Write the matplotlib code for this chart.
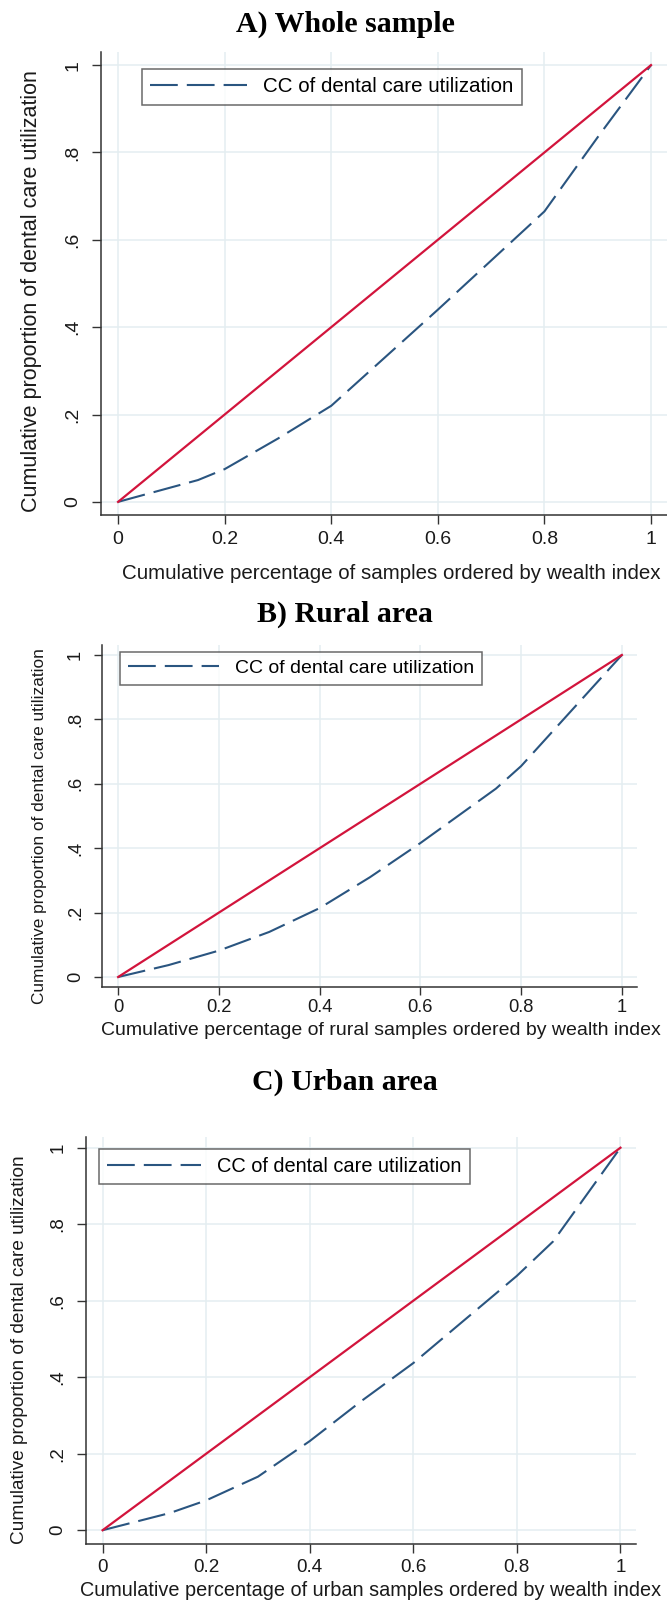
import matplotlib
matplotlib.use("Agg")
import matplotlib.pyplot as plt

W, H = 667, 1603

# concentration curves
share_a = [0, 0.15, 0.2, 0.3, 0.4, 0.6, 0.8, 0.9, 1]
cc_a = [0, 0.05, 0.075, 0.145, 0.22, 0.44, 0.665, 0.835, 1]

share_b = [0, 0.1, 0.2, 0.3, 0.4, 0.5, 0.6, 0.75, 0.8, 1]
cc_b = [0, 0.037, 0.082, 0.14, 0.214, 0.31, 0.416, 0.585, 0.655, 1]

share_c = [0, 0.13, 0.2, 0.3, 0.4, 0.5, 0.6, 0.8, 0.87, 1]
cc_c = [0, 0.045, 0.078, 0.14, 0.233, 0.338, 0.437, 0.665, 0.755, 1]

equality = [0, 1]

titles = ["A) Whole sample", "B) Rural area", "C) Urban area"]
xlabels = [
    "Cumulative percentage of samples ordered by wealth index",
    "Cumulative percentage of rural samples ordered by wealth index",
    "Cumulative percentage of urban samples ordered by wealth index",
]
ylabel = "Cumulative proportion of dental care utilization"
legend_label = "CC of dental care utilization"
xticks = [0, 0.2, 0.4, 0.6, 0.8, 1]
xticklabels = ["0", "0.2", "0.4", "0.6", "0.8", "1"]
yticks = [0, 0.2, 0.4, 0.6, 0.8, 1]
yticklabels = ["0", ".2", ".4", ".6", ".8", "1"]

RED = "#d2143c"
BLUE = "#2a5580"
GRID = "#e4eef1"
AXC = "#333333"

plt.rcParams["font.family"] = ["Liberation Sans", "DejaVu Sans"]
plt.rcParams["lines.scale_dashes"] = False

fig = plt.figure(figsize=(W / 100, H / 100), dpi=100)

# per panel: axes box in px (left, top, right, bottom), title y, label coords, font sizes
panels = [
    dict(box=(101, 52, 667, 515), xlim=(-0.032, 1.030), ylim=(-0.030, 1.030),
         title_y=24, xl=(0.512, -0.106), yl=(-0.104, 0.484), fs=14, xfs=14.8,
         yfs=15.5, lfs=14.8, leg=(0.072, 0.963), tlen=6.5, xpad=5),
    dict(box=(102, 645, 637, 987), xlim=(-0.032, 1.030), ylim=(-0.031, 1.031),
         title_y=614, xl=(0.521, -0.101), yl=(-0.103, 0.47), fs=13.2, xfs=14.0,
         yfs=12.4, lfs=14, leg=(0.034, 0.98), tlen=5.5, xpad=3),
    dict(box=(86, 1137, 636, 1544), xlim=(-0.032, 1.030), ylim=(-0.036, 1.028),
         title_y=1082, xl=(0.517, -0.092), yl=(-0.105, 0.477), fs=13.6, xfs=14.3,
         yfs=13.7, lfs=14.4, leg=(0.024, 0.97), tlen=6.5, xpad=4),
]
curves = [(share_a, cc_a), (share_b, cc_b), (share_c, cc_c)]

for p, (sx, cy), title, xlab in zip(panels, curves, titles, xlabels):
    l, t, r, b = p["box"]
    ax = fig.add_axes([l / W, 1 - b / H, (r - l) / W, (b - t) / H])

    ax.plot(sx, cy, color=BLUE, lw=1.5, dashes=(20, 6.5), label=legend_label)
    ax.plot(equality, equality, color=RED, lw=1.6)

    ax.set_xlim(*p["xlim"])
    ax.set_ylim(*p["ylim"])
    ax.set_xticks(xticks)
    ax.set_xticklabels(xticklabels)
    ax.set_yticks(yticks)
    ax.set_yticklabels(yticklabels, rotation=90, va="center")
    ax.grid(True, color=GRID, lw=1.1)
    ax.set_axisbelow(True)

    for s in ["top", "right"]:
        ax.spines[s].set_visible(False)
    for s in ["left", "bottom"]:
        ax.spines[s].set_color(AXC)
        ax.spines[s].set_linewidth(1.1)

    ax.tick_params(axis="both", direction="out", length=p["tlen"], width=1.0,
                   color=AXC, labelsize=p["fs"], labelcolor="#1a1a1a")
    ax.tick_params(axis="x", pad=p["xpad"])
    ax.tick_params(axis="y", pad=7.5)

    ax.set_xlabel(xlab, fontsize=p["xfs"], color="#1a1a1a")
    ax.xaxis.set_label_coords(*p["xl"])
    ax.set_ylabel(ylabel, fontsize=p["yfs"], color="#1a1a1a")
    ax.yaxis.set_label_coords(*p["yl"])

    leg = ax.legend(loc="upper left", bbox_to_anchor=p["leg"], fontsize=p["lfs"],
                    handlelength=4.7, handletextpad=0.8, borderpad=0.4,
                    frameon=True, fancybox=False, borderaxespad=0)
    leg.get_frame().set_edgecolor("#444444")
    leg.get_frame().set_linewidth(1.1)

    fig.text(345 / W, 1 - p["title_y"] / H, title, ha="center", va="center",
             fontsize=21.5, fontweight="bold", family=["Liberation Serif", "DejaVu Serif"])

fig.savefig("out.png", dpi=100)
